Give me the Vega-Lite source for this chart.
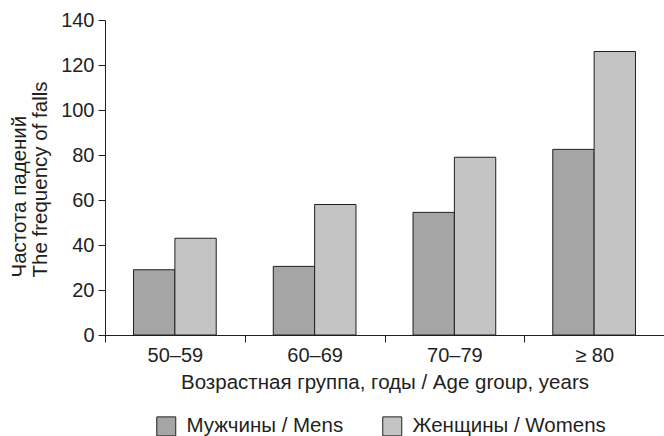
{
  "$schema": "https://vega.github.io/schema/vega-lite/v6.json",
  "width": 559,
  "height": 315,
  "autosize": {"type": "none"},
  "padding": {"left": 105, "top": 20, "right": 0, "bottom": 101},
  "background": "white",
  "data": {
    "values": [
      {"age": "50–59", "sex": "Мужчины / Mens", "falls": 29},
      {"age": "50–59", "sex": "Женщины / Womens", "falls": 43},
      {"age": "60–69", "sex": "Мужчины / Mens", "falls": 30.5},
      {"age": "60–69", "sex": "Женщины / Womens", "falls": 58},
      {"age": "70–79", "sex": "Мужчины / Mens", "falls": 54.5},
      {"age": "70–79", "sex": "Женщины / Womens", "falls": 79},
      {"age": "≥ 80", "sex": "Мужчины / Mens", "falls": 82.5},
      {"age": "≥ 80", "sex": "Женщины / Womens", "falls": 126}
    ]
  },
  "mark": {"type": "bar", "stroke": "#231f20", "strokeWidth": 1},
  "encoding": {
    "x": {
      "field": "age",
      "type": "nominal",
      "sort": ["50–59", "60–69", "70–79", "≥ 80"],
      "scale": {"paddingInner": 0, "paddingOuter": 0},
      "axis": {
        "title": "Возрастная группа, годы / Age group, years",
        "labelAngle": 0,
        "tickBand": "extent",
        "tickSize": 7,
        "labelPadding": 3,
        "titleY": 53,
        "titleBaseline": "alphabetic"
      }
    },
    "xOffset": {
      "field": "sex",
      "type": "nominal",
      "sort": ["Мужчины / Mens", "Женщины / Womens"],
      "scale": {"paddingOuter": 0.69, "paddingInner": 0}
    },
    "y": {
      "field": "falls",
      "type": "quantitative",
      "scale": {"domain": [0, 140], "nice": false},
      "axis": {
        "values": [0, 20, 40, 60, 80, 100, 120, 140],
        "title": ["Частота падений", "The frequency of falls"],
        "grid": false,
        "tickSize": 7,
        "labelPadding": 4,
        "titleAngle": -90,
        "titleX": -80,
        "titleY": 257,
        "titleAlign": "left",
        "titleBaseline": "alphabetic",
        "titleLineHeight": 21.5
      }
    },
    "fill": {
      "field": "sex",
      "type": "nominal",
      "sort": ["Мужчины / Mens", "Женщины / Womens"],
      "scale": {"range": ["#a5a5a5", "#c4c4c4"]},
      "legend": {
        "title": null,
        "orient": "none",
        "direction": "horizontal",
        "legendX": 51,
        "legendY": 396,
        "symbolType": "square",
        "symbolSize": 361,
        "symbolStrokeColor": "#231f20",
        "symbolStrokeWidth": 1,
        "symbolOpacity": 1,
        "labelFontSize": 20.5,
        "labelFont": "Liberation Sans",
        "labelColor": "#231f20",
        "labelLimit": 400,
        "labelOffset": 10,
        "columnPadding": 36
      }
    }
  },
  "config": {
    "view": {"stroke": null},
    "axis": {
      "domainColor": "#231f20",
      "tickColor": "#231f20",
      "labelFont": "Liberation Sans",
      "labelFontSize": 20,
      "labelColor": "#231f20",
      "titleFont": "Liberation Sans",
      "titleFontSize": 20.5,
      "titleFontWeight": "normal",
      "titleColor": "#231f20"
    }
  }
}
